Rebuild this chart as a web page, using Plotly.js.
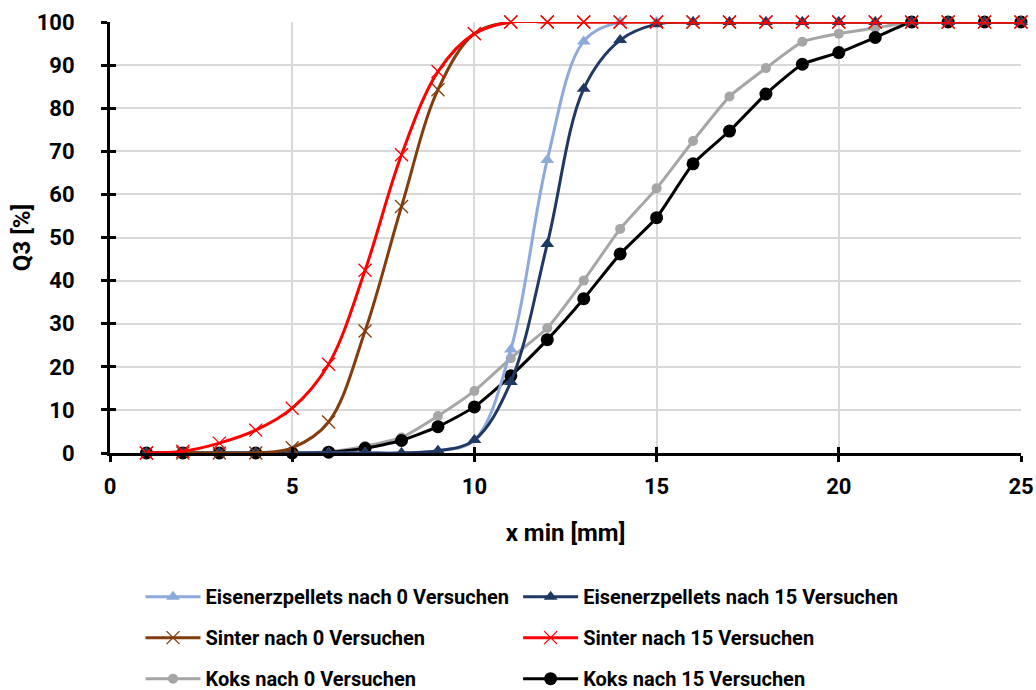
<!DOCTYPE html>
<html>
<head>
<meta charset="utf-8">
<script src="https://cdn.plot.ly/plotly-3.0.1.min.js"></script>
<style>
  html, body { margin: 0; padding: 0; background: #fff; }
  #chart { width: 1036px; height: 690px; }
</style>
</head>
<body>
<div id="chart"></div>
<script>
// Sieve classes x min [mm]
const xMin = [1, 2, 3, 4, 5, 6, 7, 8, 9, 10, 11, 12, 13, 14, 15, 16, 17, 18, 19, 20, 21, 22, 23, 24, 25];

// Cumulative passing Q3 [%]
const pellets0  = [0, 0, 0, 0, 0, 0, 0, 0, 0.5, 3, 24, 68, 95.5, 100, 100, 100, 100, 100, 100, 100, 100, 100, 100, 100, 100];
const pellets15 = [0, 0, 0, 0, 0, 0, 0, 0, 0.5, 3, 16.5, 48.5, 84.5, 95.8, 99.5, 100, 100, 100, 100, 100, 100, 100, 100, 100, 100];
const sinter0   = [0, 0, 0, 0, 1.2, 7.2, 28.3, 57.2, 84.3, 97.3, 100, 100, 100, 100, 100, 100, 100, 100, 100, 100, 100, 100, 100, 100, 100];
const sinter15  = [0, 0.4, 2.3, 5.3, 10.4, 20.6, 42.4, 69.2, 88.5, 97.3, 100, 100, 100, 100, 100, 100, 100, 100, 100, 100, 100, 100, 100, 100, 100];
const koks0     = [0, 0, 0, 0, 0, 0.3, 1.6, 3.6, 8.6, 14.4, 22, 29, 40, 52, 61.4, 72.4, 82.7, 89.3, 95.4, 97.3, 98.6, 100, 100, 100, 100];
const koks15    = [0, 0, 0, 0, 0, 0.2, 1.1, 2.9, 6.1, 10.7, 17.9, 26.3, 35.8, 46.2, 54.6, 67.1, 74.7, 83.3, 90.2, 92.9, 96.4, 100, 100, 100, 100];

const names = [
  'Eisenerzpellets nach 0 Versuchen',
  'Eisenerzpellets nach 15 Versuchen',
  'Sinter nach 0 Versuchen',
  'Sinter nach 15 Versuchen',
  'Koks nach 0 Versuchen',
  'Koks nach 15 Versuchen'
];

const FONT = 'Roboto, "Liberation Sans", Arial, sans-serif';

function series(y, name, color, symbol, msize, legend, group, rank, smooth) {
  const isX = symbol === 'x-thin';
  return {
    x: xMin, y: y, name: name, type: 'scatter', mode: 'lines+markers',
    line: { color: color, width: 3, shape: 'spline', smoothing: smooth },
    marker: isX
      ? { symbol: 'x-thin', size: msize, color: color, line: { color: color, width: 1.3 } }
      : { symbol: symbol, size: msize, color: color },
    cliponaxis: false,
    legend: legend, legendgroup: group, legendrank: rank
  };
}

const traces = [
  // drawn back-to-front so the black and red curves sit on top
  series(koks0,     names[4], '#a6a6a6', 'circle',       10, 'legend',  'k0',  3, 0.5),
  series(koks15,    names[5], '#000000', 'circle',       13, 'legend2', 'k15', 3, 0.5),
  series(pellets0,  names[0], '#8eaadb', 'triangle-up',  12, 'legend',  'p0',  1, 1),
  series(pellets15, names[1], '#203864', 'triangle-up',  12, 'legend2', 'p15', 1, 1),
  series(sinter0,   names[2], '#843c0c', 'x-thin',       13, 'legend',  's0',  2, 1),
  series(sinter15,  names[3], '#ff0000', 'x-thin',       13, 'legend2', 's15', 2, 1),
  // empty companion trace carrying the inner half of the tick marks
  { x: [], y: [], xaxis: 'x2', yaxis: 'y2', type: 'scatter', showlegend: false, hoverinfo: 'skip' }
];

const tickFont = { family: FONT, size: 22, color: '#000', weight: 'bold' };
const legendFont = { family: FONT, size: 20, color: '#000', weight: 'bold' };

const layout = {
  width: 1036, height: 690,
  margin: { l: 110, r: 15, t: 22, b: 237, autoexpand: false },
  paper_bgcolor: '#fff', plot_bgcolor: '#fff',
  font: { family: FONT, color: '#000' },
  showlegend: true,
  xaxis: {
    range: [0, 25], tickvals: [0, 5, 10, 15, 20, 25], automargin: false,
    showgrid: true, gridcolor: '#d9d9d9', gridwidth: 2, zeroline: false,
    showline: true, linecolor: '#000', linewidth: 3,
    ticks: 'outside', ticklen: 6, tickwidth: 3, tickcolor: '#000',
    ticklabelstandoff: 6,
    tickfont: tickFont,
    title: { text: '<b>x min [mm]</b>', font: { family: FONT, size: 24 }, standoff: 26 }
  },
  yaxis: {
    range: [0, 100], dtick: 10, automargin: false,
    showgrid: true, gridcolor: '#d9d9d9', gridwidth: 2, zeroline: false,
    showline: true, linecolor: '#000', linewidth: 3,
    ticks: 'outside', ticklen: 6, tickwidth: 3, tickcolor: '#000',
    ticklabelstandoff: 22,
    tickfont: tickFont,
    title: { text: '<b>Q3 [%]</b>', font: { family: FONT, size: 24 }, standoff: 0 }
  },
  xaxis2: {
    overlaying: 'x', range: [0, 25], tickvals: [0, 5, 10, 15, 20, 25], automargin: false,
    showgrid: false, zeroline: false, showticklabels: false,
    ticks: 'inside', ticklen: 6, tickwidth: 3, tickcolor: '#000', side: 'bottom'
  },
  yaxis2: {
    overlaying: 'y', range: [0, 100], dtick: 10, automargin: false,
    showgrid: false, zeroline: false, showticklabels: false,
    ticks: 'inside', ticklen: 6, tickwidth: 3, tickcolor: '#000', side: 'left'
  },
  legend: {
    x: 0.0335, y: -0.288, xanchor: 'left', yanchor: 'top',
    orientation: 'v', traceorder: 'grouped', tracegroupgap: 12, itemwidth: 55,
    font: legendFont, bgcolor: 'rgba(0,0,0,0)'
  },
  legend2: {
    x: 0.448, y: -0.288, xanchor: 'left', yanchor: 'top',
    orientation: 'v', traceorder: 'grouped', tracegroupgap: 12, itemwidth: 55,
    font: legendFont, bgcolor: 'rgba(0,0,0,0)'
  }
};

Plotly.newPlot('chart', traces, layout, { displayModeBar: false, staticPlot: true });
</script>
</body>
</html>
